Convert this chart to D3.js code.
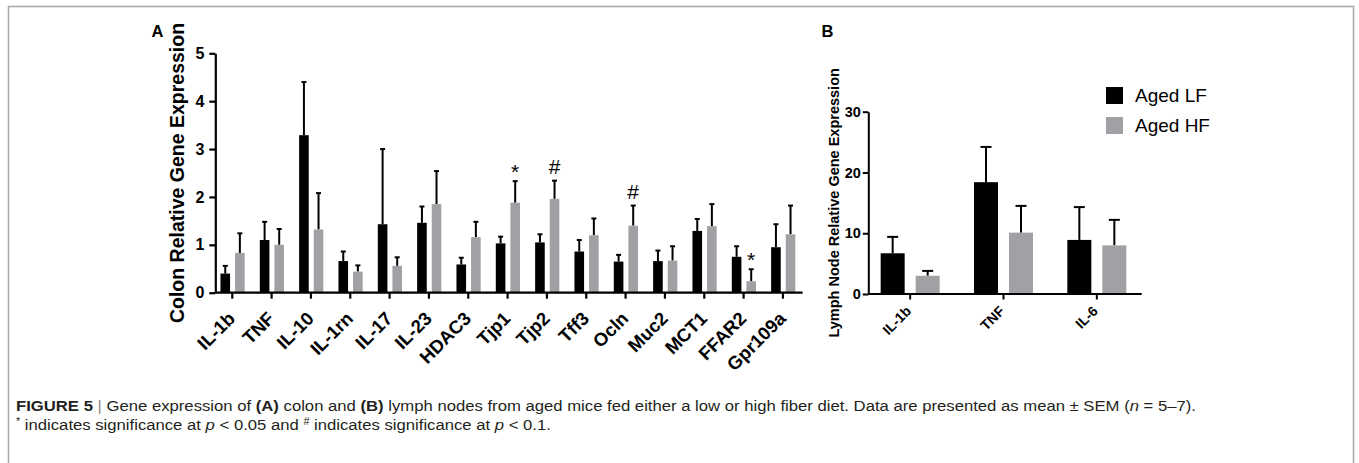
<!DOCTYPE html>
<html>
<head>
<meta charset="utf-8">
<script src="https://cdn.jsdelivr.net/npm/d3@7"></script>
<style>
body { margin: 0; background: #fff; }
svg { display: block; }
text { font-family: Arial, "Liberation Sans", Helvetica, sans-serif; }
</style>
</head>
<body>
<div id="container"></div>
<script>
const width = 1359;
const height = 463;

// series
const groups = ["Aged LF", "Aged HF"];
const groupColors = ["#000000", "#a1a1a5"];

// panel A - colon
const colonGenes = ["IL-1b", "TNF", "IL-10", "IL-1rn", "IL-17", "IL-23", "HDAC3", "Tjp1", "Tjp2", "Tff3", "Ocln", "Muc2", "MCT1", "FFAR2", "Gpr109a"];
const colonLF    = [0.40, 1.10, 3.29, 0.66, 1.43, 1.46, 0.59, 1.03, 1.05, 0.86, 0.65, 0.66, 1.29, 0.75, 0.95];
const colonLFsem = [0.16, 0.38, 1.11, 0.20, 1.57, 0.34, 0.14, 0.14, 0.17, 0.24, 0.14, 0.22, 0.25, 0.22, 0.48];
const colonHF    = [0.83, 1.00, 1.32, 0.44, 0.56, 1.85, 1.16, 1.88, 1.96, 1.20, 1.40, 0.67, 1.39, 0.24, 1.22];
const colonHFsem = [0.41, 0.33, 0.76, 0.13, 0.18, 0.69, 0.32, 0.45, 0.38, 0.35, 0.42, 0.30, 0.46, 0.25, 0.60];
const colonTicks = [0, 1, 2, 3, 4, 5];
const colonMarks = [
  {gene: "Tjp1", mark: "*"},
  {gene: "Tjp2", mark: "#"},
  {gene: "Ocln", mark: "#"},
  {gene: "FFAR2", mark: "*"}
];

// panel B - lymph node
const lymphGenes = ["IL-1b", "TNF", "IL-6"];
const lymphLF    = [6.7, 18.4, 8.9];
const lymphLFsem = [2.7, 5.8, 5.4];
const lymphHF    = [3.0, 10.1, 8.0];
const lymphHFsem = [0.8, 4.4, 4.2];
const lymphTicks = [0, 10, 20, 30];

const viz = d3.select("#container").append("svg").attr("width", width).attr("height", height);

// outer frame
viz.append("rect").attr("x", 8.5).attr("y", 6.5).attr("width", 1345).attr("height", 480)
  .attr("fill", "none").attr("stroke", "#a8a8a8").attr("stroke-width", 1.5);

function drawPanel(cfg) {
  const g = viz.append("g");
  const x = d3.scaleBand().domain(cfg.genes).range(cfg.xRange);
  const y = d3.scaleLinear().domain([0, cfg.ticks[cfg.ticks.length - 1]]).range([cfg.y0, cfg.yTop]);
  const cx = d => x(d) + x.bandwidth() / 2;

  const rows = [];
  cfg.genes.forEach((gene, i) => {
    rows.push({gene: gene, grp: 0, m: cfg.lf[i], e: cfg.lfSem[i]});
    rows.push({gene: gene, grp: 1, m: cfg.hf[i], e: cfg.hfSem[i]});
  });

  // whiskers (upper half only)
  const whisk = g.selectAll(".whisk").data(rows).enter().append("g").attr("class", "whisk")
    .attr("stroke", "#000").attr("stroke-width", cfg.lw);
  whisk.append("line")
    .attr("x1", d => cx(d.gene) + cfg.barOff[d.grp] + cfg.barW / 2)
    .attr("x2", d => cx(d.gene) + cfg.barOff[d.grp] + cfg.barW / 2)
    .attr("y1", d => y(d.m)).attr("y2", d => y(d.m + d.e));
  whisk.append("line")
    .attr("x1", d => cx(d.gene) + cfg.barOff[d.grp] + cfg.barW / 2 - cfg.capW / 2)
    .attr("x2", d => cx(d.gene) + cfg.barOff[d.grp] + cfg.barW / 2 + cfg.capW / 2)
    .attr("y1", d => y(d.m + d.e)).attr("y2", d => y(d.m + d.e));

  // bars
  g.selectAll(".bar").data(rows).enter().append("rect").attr("class", "bar")
    .attr("x", d => cx(d.gene) + cfg.barOff[d.grp])
    .attr("width", cfg.barW)
    .attr("y", d => y(d.m))
    .attr("height", d => y(0) - y(d.m))
    .attr("fill", d => groupColors[d.grp]);

  // y axis
  const yAxisGroup = g.append("g").attr("transform", "translate(" + cfg.axisX + ",0)")
    .call(d3.axisLeft(y).tickValues(cfg.ticks).tickFormat(d3.format("d"))
      .tickSize(cfg.tickLen).tickSizeOuter(0).tickPadding(cfg.tickPad));
  yAxisGroup.attr("font-size", cfg.yFont).attr("font-family", "Arial, 'Liberation Sans', sans-serif");
  yAxisGroup.selectAll("line, path").attr("stroke", "#000").attr("stroke-width", cfg.axW);
  yAxisGroup.selectAll("text").attr("fill", "#000").attr("font-weight", "bold");

  // x axis
  const xAxisGroup = g.append("g").attr("transform", "translate(0," + cfg.y0 + ")")
    .call(d3.axisBottom(x).tickSize(cfg.tickLen).tickSizeOuter(0));
  xAxisGroup.select(".domain").attr("d", "M" + cfg.axisX + ",0H" + cfg.xEnd);
  xAxisGroup.selectAll("line, path").attr("stroke", "#000").attr("stroke-width", cfg.axW);
  xAxisGroup.selectAll("text").remove();
  g.selectAll(".xlab").data(cfg.genes).enter().append("text").attr("class", "xlab")
    .attr("transform", d => "translate(" + (cx(d) + cfg.labDx) + "," + (cfg.y0 + cfg.labDy) + ") rotate(-45)")
    .attr("text-anchor", "end").attr("font-size", cfg.xFont).attr("font-weight", "bold")
    .text(d => d);

  // axis title
  g.append("text")
    .attr("transform", "translate(" + cfg.titleX + "," + (cfg.y0 + cfg.yTop) / 2 + ") rotate(-90)")
    .attr("text-anchor", "middle").attr("font-size", cfg.titleFont).attr("font-weight", "bold")
    .text(cfg.title);

  // panel letter
  g.append("text").attr("x", cfg.letterX).attr("y", cfg.letterY)
    .attr("font-size", 16.5).attr("font-weight", "bold").text(cfg.letter);

  return {x: x, y: y, cx: cx};
}

const panelA = drawPanel({
  genes: colonGenes, lf: colonLF, lfSem: colonLFsem, hf: colonHF, hfSem: colonHFsem,
  ticks: colonTicks, xRange: [212.6, 802.6], xEnd: 802.6, y0: 292.7, yTop: 53.3, axisX: 215.3,
  barW: 9.6, barOff: [-11.8, 2.8], capW: 5, lw: 2, axW: 2.2, tickLen: 6, tickPad: 5,
  yFont: 16, xFont: 18.5, labDx: 4, labDy: 27,
  title: "Colon Relative Gene Expression", titleX: 184, titleFont: 19.5,
  letter: "A", letterX: 151.5, letterY: 36.7
});

drawPanel({
  genes: lymphGenes, lf: lymphLF, lfSem: lymphLFsem, hf: lymphHF, hfSem: lymphHFsem,
  ticks: lymphTicks, xRange: [863.5, 1143.5], xEnd: 1141.7, y0: 294, yTop: 111.7, axisX: 868.3,
  barW: 24, barOff: [-29.5, 5.5], capW: 11, lw: 2, axW: 2, tickLen: 5.5, tickPad: 2,
  yFont: 14.5, xFont: 14, labDx: 2, labDy: 18,
  title: "Lymph Node Relative Gene Expression", titleX: 838.5, titleFont: 14.5,
  letter: "B", letterX: 821.5, letterY: 37.3
});

// significance marks over the HF bars of panel A
viz.selectAll(".sig").data(colonMarks).enter().append("text").attr("class", "sig")
  .attr("x", d => panelA.cx(d.gene) + 2.8 + 4.8)
  .attr("y", d => {
    const i = colonGenes.indexOf(d.gene);
    return panelA.y(colonHF[i] + colonHFsem[i]) - (d.mark === "*" ? 2 : 7);
  })
  .attr("text-anchor", "middle").attr("font-size", 21).text(d => d.mark);

// legend
const legend = viz.selectAll(".legend").data(groups).enter().append("g").attr("class", "legend")
  .attr("transform", (d, i) => "translate(1106," + (87 + i * 30) + ")");
legend.append("rect").attr("width", 17).attr("height", 17).attr("fill", (d, i) => groupColors[i]);
legend.append("text").attr("x", 29).attr("y", 15).attr("font-size", 19).attr("fill", "#000").text(d => d);

// caption
const line1 = [
  ["FIGURE 5", "b"], [" | ", "bar"], ["Gene expression of ", ""], ["(A)", "b"], [" colon and ", ""],
  ["(B)", "b"], [" lymph nodes from aged mice fed either a low or high fiber diet. Data are presented as mean \u00b1 SEM (", ""],
  ["n", "i"], [" = 5\u20137).", ""]
];
const line2 = [
  ["*", "sup"], [" indicates significance at ", ""], ["p", "i"], [" < 0.05 and ", ""], ["#", "sup"],
  [" indicates significance at ", ""], ["p", "i"], [" < 0.1.", ""]
];
function caption(parts, yPos) {
  const t = viz.append("text").attr("x", 16).attr("y", yPos).attr("font-size", 15.5)
    .attr("fill", "#231f20");
  parts.forEach(p => {
    const s = t.append("tspan").text(p[0]);
    if (p[1] === "b") s.attr("font-weight", "bold");
    if (p[1] === "i") s.attr("font-style", "italic");
    if (p[1] === "bar") s.attr("fill", "#8a8a8a");
    if (p[1] === "sup") s.attr("font-size", 10).attr("baseline-shift", "super");
  });
  return t;
}
const cap1 = caption(line1, 411);
const cap2 = caption(line2, 430);
// stretch both lines by the same factor so line 1 ends where the reference's does
const scaleCap = 1180 / cap1.node().getComputedTextLength();
[cap1, cap2].forEach(t => {
  t.attr("textLength", t.node().getComputedTextLength() * scaleCap).attr("lengthAdjust", "spacingAndGlyphs");
});
</script>
</body>
</html>
